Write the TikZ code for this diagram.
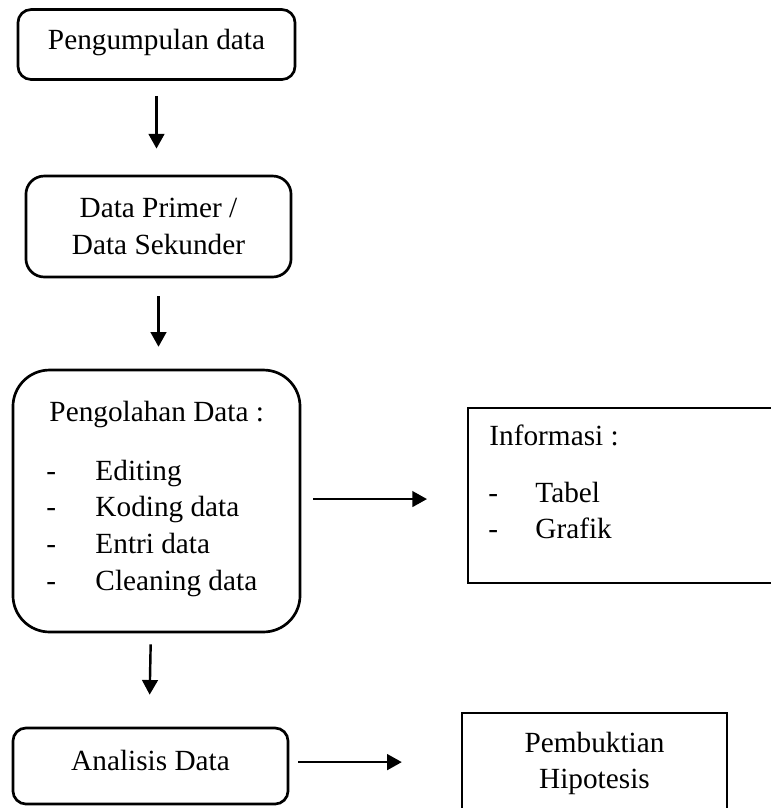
\documentclass[tikz,border=0pt]{standalone}
\usepackage{fontspec}
\setmainfont{Liberation Serif}
\usetikzlibrary{arrows.meta}

\begin{document}
\begin{tikzpicture}[
		x=0.41pt, y=-0.41pt,
		every node/.style={font=\fontsize{12}{15}\selectfont},
		roundbox/.style={draw, line width=1.1pt, rounded corners=#1, align=center},
		roundbox/.default=5pt,
		plainbox/.style={draw, line width=0.9pt, align=center},
		itemtext/.style={anchor=base west, inner sep=0pt},
		flow/.style={line width=1pt, -{Triangle[length=6pt, width=6.4pt]}}
		]
		\useasboundingbox (0, 0) rectangle (771, 808);
		
		% Draw Boxes
		\node[roundbox=5.4pt, minimum width=113.6pt, minimum height=28.7pt, text depth=4.5pt] (kumpul) at (156.5, 44.5) {Pengumpulan data};
		\node[roundbox=7.5pt, minimum width=108.7pt, minimum height=41.4pt] (primer) at (158.5, 226.5) {Data Primer /\\Data Sekunder};
		\node[roundbox=15pt, minimum width=117.7pt, minimum height=107.4pt] (olah) at (156.5, 501) {};
		\node[roundbox=5.4pt, minimum width=112.8pt, minimum height=31.2pt, text depth=4.5pt] (analisis) at (150.5, 766) {Analisis Data};
		\node[plainbox, anchor=north west, minimum width=135pt, minimum height=71.8pt] (info) at (467, 407) {};
		\node[plainbox, minimum width=108.7pt, minimum height=41.4pt] (bukti) at (594.5, 763.5) {Pembuktian\\Hipotesis};
		
		% Text Inside Pengolahan Data
		\node[itemtext] (olahjudul) at (49, 421) {Pengolahan Data :};
		\foreach \name [count=\i] in {Editing, Koding data, Entri data, Cleaning data} {
			\node[itemtext] (olahdash\i) at (46, {443.3 + 36.7*\i}) {-};
			\node[itemtext] (olahitem\i) at (95, {443.3 + 36.7*\i}) {\name};
		}
		
		% Text Inside Informasi
		\node[itemtext] (infojudul) at (489, 445) {Informasi :};
		\foreach \name [count=\i] in {Tabel, Grafik} {
			\node[itemtext] (infodash\i) at (488, {466 + 36*\i}) {-};
			\node[itemtext] (infoitem\i) at (535, {466 + 36*\i}) {\name};
		}
		
		% Add Arrows
		\draw[flow, shorten <=6.2pt, shorten >=10.7pt] (kumpul.south) -- (kumpul.south |- primer.north);
		\draw[flow, shorten <=7.4pt, shorten >=9pt] (primer.south) -- (primer.south |- olah.north);
		\draw[flow, shorten <=4.9pt, shorten >=16.4pt] ([yshift=0.8pt]olah.east) -- ([yshift=0.8pt]olah.east -| info.west);
		\draw[flow, shorten <=4.5pt, shorten >=13.1pt] ([xshift=-2.3pt]olah.south) -- ([xshift=-0.6pt]analisis.north);
		\draw[flow, shorten <=3.7pt, shorten >=24.2pt] ([yshift=1.6pt]analisis.east) -- ([yshift=1.6pt]analisis.east -| bukti.west);
		
	\end{tikzpicture}
\end{document}
